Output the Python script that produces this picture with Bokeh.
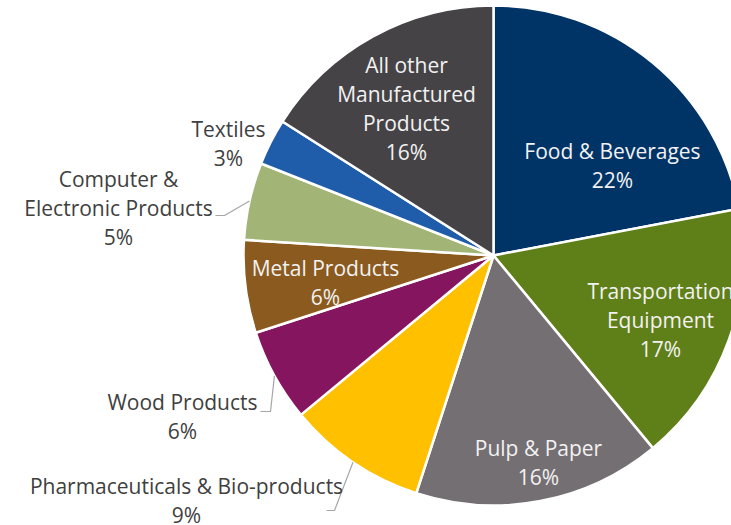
import numpy as np
from bokeh.plotting import figure
from bokeh.models import Range1d, ColumnDataSource
from bokeh.core.properties import value
from bokeh.embed import file_html
from bokeh.resources import INLINE

# ---- data ----
categories = ["Food & Beverages", "Transportation Equipment", "Pulp & Paper",
              "Pharmaceuticals & Bio-products", "Wood Products", "Metal Products",
              "Computer & Electronic Products", "Textiles", "All other Manufactured Products"]
shares = [22, 17, 16, 9, 6, 6, 5, 3, 16]
colors = ["#003366", "#5F7F18", "#746F72", "#FFC000", "#86155F", "#8B5A1E",
          "#A3B576", "#1F5CAA", "#454346"]
label_lines = [["Food & Beverages"], ["Transportation", "Equipment"], ["Pulp & Paper"],
               ["Pharmaceuticals & Bio-products"], ["Wood Products"], ["Metal Products"],
               ["Computer &", "Electronic Products"], ["Textiles"],
               ["All other", "Manufactured", "Products"]]

# ---- layout (screen pixels) ----
W, H = 731, 525
def Y(s):
    return H - s

CX, CY, R = 493, 255, 250
label_cx = [612, 660, 538, 186, 182, 325, 118, 228, 406]
label_base = [150, 290, 447, 485, 401, 267, 178, 128, 64]
inside = [True, True, True, False, False, True, False, False, True]
LINE = 29
leaders = {3: (326, 334, 510), 4: (260, 270, 411), 6: (215, 224, 215)}

p = figure(width=W, height=H, output_backend="svg", toolbar_location=None,
           x_range=Range1d(0, W), y_range=Range1d(0, H),
           x_axis_type=None, y_axis_type=None, min_border=0)
p.outline_line_color = None
p.grid.visible = False
p.background_fill_color = "white"

frac = np.array(shares, dtype=float) / sum(shares)
cum_end = np.cumsum(frac)
cum_start = cum_end - frac
start = np.pi / 2 - 2 * np.pi * cum_start
end = np.pi / 2 - 2 * np.pi * cum_end

src = ColumnDataSource(dict(start=start, end=end, color=colors, cat=categories))
p.wedge(x=CX, y=Y(CY), radius=R, start_angle="start", end_angle="end",
        direction="clock", fill_color="color", line_color="white", line_width=2.5,
        source=src)

# leader lines
for i, (x0, x1, ys) in leaders.items():
    mid = np.pi / 2 - 2 * np.pi * (cum_start[i] + frac[i] / 2)
    px = CX + R * np.cos(mid)
    py = Y(CY) + R * np.sin(mid)
    p.line([x0, x1, px], [Y(ys), Y(ys), py], line_color="#A6A6A6", line_width=1.2)

# labels
xs, ys, txt, cols = [], [], [], []
for i in range(len(categories)):
    lines = label_lines[i] + [f"{shares[i]}%"]
    for k, t in enumerate(lines):
        xs.append(label_cx[i])
        ys.append(Y(label_base[i] + k * LINE))
        txt.append(t)
        cols.append("#F2F2F2" if inside[i] else "#404040")

p.text(x=xs, y=ys, text=txt, text_color=cols, text_align="center",
       text_baseline="alphabetic", text_font=value("Open Sans"),
       text_font_size="21px")

open("out.html", "w").write(file_html(p, INLINE))
